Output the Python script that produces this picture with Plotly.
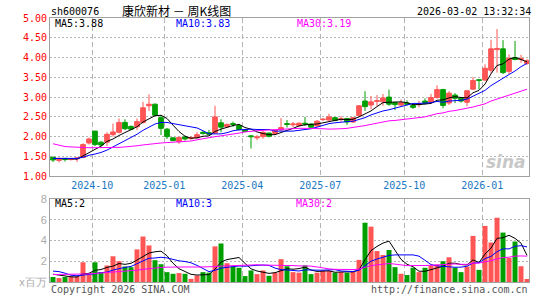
import plotly.graph_objects as go
import pandas as pd

# ---- categories (weekly K-line, dated by week end; Spring-Festival week has no trading) ----
weeks = [d.strftime("%Y-%m-%d") for d in pd.date_range("2024-08-23", "2026-02-27", freq="W-FRI")
         if d.strftime("%Y-%m-%d") != "2026-02-20"] + ["2026-03-02"]
tick_weeks = ["2024-10-11", "2025-01-03", "2025-04-04", "2025-07-04", "2025-10-10", "2026-01-09"]
tick_labels = ["2024-10", "2025-01", "2025-04", "2025-07", "2025-10", "2026-01"]

# ---- prices ----
opens = [1.48, 1.40, 1.45, 1.42, 1.44, 1.47, 1.84, 2.14, 1.86, 1.86,
         2.05, 2.11, 2.36, 2.26, 2.25, 2.36, 2.78, 2.82, 2.48, 2.19,
         1.97, 1.87, 1.99, 1.95, 1.97, 2.11, 2.10, 2.09, 2.35, 2.25,
         2.33, 2.28, 2.17, 2.02, 1.97, 2.00, 2.09, 2.08, 2.17, 2.33,
         2.30, 2.28, 2.34, 2.32, 2.27, 2.43, 2.42, 2.48, 2.43, 2.46,
         2.37, 2.53, 2.90, 2.80, 2.89, 2.88, 3.00, 2.86, 2.80, 2.85,
         2.79, 2.81, 2.90, 2.87, 2.99, 3.19, 2.85, 3.05, 2.97, 2.87,
         3.20, 3.44, 3.43, 3.68, 4.20, 4.22, 3.65, 4.00, 3.95, 3.85]
highs = [1.49, 1.47, 1.46, 1.46, 1.47, 1.83, 1.98, 2.14, 1.89, 2.11,
         2.33, 2.46, 2.44, 2.28, 2.46, 2.88, 3.07, 2.84, 2.55, 2.22,
         1.99, 2.00, 2.03, 2.00, 2.11, 2.14, 2.17, 2.78, 2.44, 2.33,
         2.38, 2.30, 2.19, 2.04, 2.04, 2.15, 2.11, 2.18, 2.47, 2.42,
         2.37, 2.36, 2.50, 2.33, 2.42, 2.47, 2.58, 2.50, 2.52, 2.47,
         2.50, 2.80, 3.15, 3.03, 3.05, 3.08, 3.19, 2.88, 2.94, 2.92,
         2.84, 2.91, 2.97, 3.08, 3.30, 3.21, 3.15, 3.10, 3.00, 3.18,
         3.51, 3.45, 3.83, 4.45, 4.72, 4.44, 4.08, 4.42, 4.07, 3.96]
lows = [1.36, 1.35, 1.37, 1.40, 1.36, 1.46, 1.80, 1.76, 1.75, 1.76,
        2.00, 2.08, 2.17, 2.16, 2.17, 2.33, 2.65, 2.53, 2.04, 1.94,
        1.88, 1.82, 1.90, 1.92, 1.95, 2.05, 2.03, 2.07, 2.11, 2.22,
        2.25, 2.16, 2.11, 1.70, 1.91, 1.95, 1.98, 2.05, 2.15, 2.23,
        2.24, 2.26, 2.27, 2.22, 2.25, 2.40, 2.40, 2.39, 2.38, 2.30,
        2.35, 2.52, 2.65, 2.69, 2.78, 2.78, 2.78, 2.67, 2.77, 2.79,
        2.70, 2.74, 2.81, 2.85, 2.96, 2.72, 2.80, 2.85, 2.86, 2.77,
        3.18, 3.19, 3.40, 3.60, 3.62, 3.58, 3.58, 3.93, 3.87, 3.82]
closes = [1.41, 1.45, 1.42, 1.43, 1.46, 1.80, 1.94, 1.80, 1.79, 2.06,
          2.12, 2.36, 2.20, 2.19, 2.38, 2.73, 2.82, 2.54, 2.21, 2.00,
          1.90, 1.98, 1.94, 1.98, 2.05, 2.08, 2.06, 2.50, 2.24, 2.31,
          2.31, 2.18, 2.13, 2.00, 1.99, 2.11, 2.01, 2.16, 2.23, 2.31,
          2.32, 2.34, 2.32, 2.24, 2.39, 2.44, 2.50, 2.41, 2.45, 2.37,
          2.48, 2.78, 2.76, 2.88, 2.91, 2.98, 2.82, 2.81, 2.86, 2.82,
          2.74, 2.83, 2.84, 2.99, 3.19, 2.79, 3.10, 2.97, 2.90, 3.16,
          3.42, 3.42, 3.73, 4.22, 4.23, 3.62, 3.98, 3.95, 3.97, 3.92]
ma5 = [1.45, 1.45, 1.44, 1.44, 1.43, 1.51, 1.61, 1.69, 1.76, 1.88,
       1.94, 2.03, 2.11, 2.19, 2.25, 2.37, 2.46, 2.53, 2.54, 2.46,
       2.29, 2.13, 2.01, 1.96, 1.97, 2.01, 2.02, 2.13, 2.19, 2.24,
       2.28, 2.31, 2.23, 2.19, 2.12, 2.08, 2.05, 2.05, 2.10, 2.16,
       2.21, 2.27, 2.30, 2.31, 2.32, 2.35, 2.38, 2.40, 2.44, 2.43,
       2.44, 2.50, 2.57, 2.65, 2.76, 2.86, 2.87, 2.88, 2.88, 2.86,
       2.81, 2.81, 2.82, 2.84, 2.92, 2.93, 2.98, 3.01, 2.99, 2.98,
       3.11, 3.17, 3.33, 3.59, 3.80, 3.84, 3.96, 4.00, 3.95, 3.89]
ma10 = [1.45, 1.45, 1.45, 1.45, 1.45, 1.48, 1.53, 1.56, 1.60, 1.66,
        1.73, 1.82, 1.90, 1.97, 2.06, 2.16, 2.25, 2.32, 2.36, 2.36,
        2.33, 2.30, 2.27, 2.25, 2.22, 2.15, 2.07, 2.07, 2.07, 2.10,
        2.15, 2.17, 2.18, 2.19, 2.18, 2.18, 2.18, 2.14, 2.14, 2.14,
        2.14, 2.16, 2.18, 2.20, 2.24, 2.28, 2.33, 2.35, 2.37, 2.38,
        2.39, 2.44, 2.48, 2.55, 2.60, 2.65, 2.68, 2.72, 2.77, 2.81,
        2.84, 2.84, 2.85, 2.86, 2.89, 2.87, 2.90, 2.91, 2.92, 2.95,
        3.02, 3.08, 3.17, 3.29, 3.39, 3.48, 3.57, 3.66, 3.77, 3.85]
ma30 = [1.82, 1.78, 1.75, 1.74, 1.73, 1.72, 1.72, 1.72, 1.72, 1.72,
        1.73, 1.73, 1.74, 1.75, 1.77, 1.79, 1.81, 1.83, 1.84, 1.85,
        1.86, 1.87, 1.88, 1.89, 1.92, 1.95, 1.98, 2.00, 2.02, 2.04,
        2.07, 2.09, 2.12, 2.14, 2.15, 2.16, 2.17, 2.18, 2.19, 2.20,
        2.21, 2.21, 2.21, 2.21, 2.21, 2.20, 2.19, 2.19, 2.20, 2.21,
        2.23, 2.25, 2.28, 2.31, 2.34, 2.37, 2.40, 2.41, 2.43, 2.44,
        2.46, 2.48, 2.50, 2.54, 2.58, 2.60, 2.64, 2.66, 2.69, 2.71,
        2.75, 2.79, 2.83, 2.90, 2.96, 3.00, 3.05, 3.10, 3.15, 3.20]

# ---- volume (x 1,000,000) ----
volume = [0.48, 0.38, 0.48, 0.54, 0.54, 1.90, 0.73, 1.90, 0.95, 1.59,
          2.48, 2.00, 1.49, 1.43, 3.14, 4.38, 3.52, 2.10, 1.71, 0.95,
          0.79, 0.86, 0.79, 0.30, 0.63, 0.95, 0.90, 3.43, 3.71, 1.81,
          1.49, 1.37, 0.57, 1.11, 0.76, 1.11, 0.60, 0.90, 2.20, 1.52,
          0.95, 0.90, 1.60, 0.76, 0.90, 1.08, 1.08, 0.90, 0.95, 0.90,
          1.02, 2.13, 5.71, 5.33, 2.98, 2.60, 3.08, 1.43, 0.79, 0.67,
          1.37, 0.95, 1.37, 1.60, 1.68, 2.00, 2.38, 1.37, 0.95, 1.49,
          4.44, 1.17, 5.40, 3.81, 6.19, 4.76, 2.32, 3.90, 1.52, 0.29]
vma5 = [0.75, 0.65, 0.55, 0.50, 0.48, 0.77, 0.84, 1.12, 1.20, 1.41,
        1.53, 1.78, 1.70, 1.80, 2.11, 2.49, 2.79, 2.91, 2.97, 2.53,
        1.81, 1.28, 1.02, 0.74, 0.67, 0.71, 0.71, 1.24, 1.92, 2.16,
        2.27, 2.36, 1.79, 1.27, 1.06, 0.98, 0.83, 0.90, 1.11, 1.27,
        1.23, 1.29, 1.43, 1.15, 1.02, 1.05, 1.08, 0.94, 0.98, 0.98,
        0.97, 1.18, 2.14, 3.02, 3.43, 3.75, 3.94, 3.08, 2.18, 1.71,
        1.47, 1.04, 1.03, 1.19, 1.39, 1.52, 1.81, 1.81, 1.68, 1.64,
        2.13, 1.88, 2.69, 3.26, 4.20, 4.27, 4.50, 4.20, 3.74, 2.56]
vma10 = [1.05, 1.00, 0.85, 0.65, 0.60, 0.65, 0.68, 0.80, 0.90, 0.95,
         1.15, 1.31, 1.41, 1.50, 1.76, 2.01, 2.29, 2.31, 2.38, 2.32,
         2.15, 2.04, 1.97, 1.85, 1.60, 1.26, 1.00, 1.13, 1.33, 1.42,
         1.49, 1.54, 1.52, 1.60, 1.61, 1.63, 1.60, 1.34, 1.19, 1.16,
         1.11, 1.06, 1.17, 1.13, 1.14, 1.14, 1.19, 1.19, 1.06, 1.00,
         1.01, 1.13, 1.54, 2.00, 2.21, 2.36, 2.56, 2.61, 2.60, 2.57,
         2.61, 2.49, 2.06, 1.68, 1.55, 1.49, 1.42, 1.42, 1.43, 1.52,
         1.82, 1.85, 2.25, 2.47, 2.92, 3.20, 3.19, 3.44, 3.50, 3.38]
vma30 = [0.72, 0.72, 0.72, 0.73, 0.74, 0.76, 0.78, 0.82, 0.86, 0.90,
         0.95, 1.00, 1.04, 1.08, 1.14, 1.22, 1.30, 1.36, 1.40, 1.43,
         1.45, 1.46, 1.46, 1.45, 1.44, 1.43, 1.42, 1.48, 1.53, 1.56,
         1.60, 1.63, 1.63, 1.65, 1.66, 1.63, 1.63, 1.59, 1.64, 1.63,
         1.58, 1.55, 1.55, 1.53, 1.45, 1.34, 1.26, 1.22, 1.20, 1.19,
         1.20, 1.24, 1.41, 1.58, 1.65, 1.71, 1.78, 1.72, 1.62, 1.58,
         1.58, 1.56, 1.59, 1.61, 1.64, 1.67, 1.72, 1.74, 1.70, 1.70,
         1.81, 1.82, 1.95, 2.05, 2.23, 2.35, 2.39, 2.49, 2.51, 2.49]

price_ticks = [1.0, 1.5, 2.0, 2.5, 3.0, 3.5, 4.0, 4.5, 5.0]
vol_ticks = [0, 2, 4, 6, 8]
vol_tick_text = ["x百万", "2", "4", "6", "8"]

# ---- style ----
UP, DOWN = "#ff5555", "#009f00"
MA_COLORS = ["#000000", "#0000ff", "#ff00ff"]
MONO = "DejaVu Sans Mono"
GRID = "#b4b4b4"
BORDER = "#a0a0a0"
W, H = 545, 300
L, R, T, B = 50, 16, 18, 15
PW, PH = W - L - R, H - T - B


def px(x):
    return (x - L) / PW


def py(y):
    return (H - B - y) / PH


x = list(range(len(weeks)))
tickpos = [weeks.index(w) - 0.45 for w in tick_weeks]

fig = go.Figure()
fig.add_trace(go.Candlestick(
    x=x, open=opens, high=highs, low=lows, close=closes,
    increasing=dict(line=dict(color=UP, width=1), fillcolor=UP),
    decreasing=dict(line=dict(color=DOWN, width=1), fillcolor=DOWN),
    whiskerwidth=0, xaxis="x", yaxis="y", showlegend=False, hoverinfo="skip"))
for ma, col in zip([ma5, ma10, ma30], MA_COLORS):
    fig.add_trace(go.Scatter(x=x, y=ma, mode="lines", line=dict(color=col, width=1),
                             xaxis="x", yaxis="y", showlegend=False, hoverinfo="skip"))

bar_colors = [UP if c >= o else DOWN for o, c in zip(opens, closes)]
fig.add_trace(go.Bar(x=x, y=volume, marker=dict(color=bar_colors, line=dict(width=0)),
                     width=0.83, xaxis="x2", yaxis="y2", showlegend=False, hoverinfo="skip"))
for ma, col in zip([vma5, vma10, vma30], MA_COLORS):
    fig.add_trace(go.Scatter(x=x, y=ma, mode="lines", line=dict(color=col, width=1),
                             xaxis="x2", yaxis="y2", showlegend=False, hoverinfo="skip"))

xr = [-0.5, len(weeks) - 0.67]
common_x = dict(range=xr, tickvals=tickpos, ticktext=tick_labels, showgrid=True,
                gridcolor=GRID, griddash="5px,3px", gridwidth=1, showline=True, mirror=True,
                linecolor=BORDER, linewidth=1, ticks="", zeroline=False, fixedrange=True)

fig.update_layout(
    width=W, height=H, margin=dict(l=L, r=R, t=T, b=B),
    paper_bgcolor="white", plot_bgcolor="white", showlegend=False, hovermode=False,
    bargap=0.15, boxgap=0.22, boxgroupgap=0,
    xaxis=dict(domain=[0, 1], anchor="y", rangeslider=dict(visible=False),
               showticklabels=True, tickfont=dict(family=MONO, size=10, color="#1a78c2"),
               **common_x),
    yaxis=dict(domain=[107 / PH, 1], anchor="x", range=[1, 5], tickvals=price_ticks,
               tickformat=".2f", tickfont=dict(family=MONO, size=10, color="#ff0000"),
               showgrid=True, gridcolor=GRID, griddash="2px,2px", gridwidth=1,
               showline=True, mirror=True, linecolor=BORDER, linewidth=1,
               ticks="", zeroline=False, fixedrange=True),
    xaxis2=dict(domain=[0, 1], anchor="y2", showticklabels=False, **common_x),
    yaxis2=dict(domain=[0, 84 / PH], anchor="x2", range=[0, 8], tickvals=vol_ticks,
                ticktext=vol_tick_text, tickfont=dict(family="Liberation Sans", size=11, color="#aaaaaa"),
                showgrid=True, gridcolor=GRID, griddash="2px,2px", gridwidth=1,
                showline=True, mirror=True, linecolor=BORDER, linewidth=1,
                ticks="", zeroline=False, fixedrange=True),
)


def note(text, x0, y0, color="#000000", size=10, family=MONO, xanchor="left", **kw):
    fig.add_annotation(text=text, x=px(x0), y=py(y0), xref="paper", yref="paper",
                       showarrow=False, xanchor=xanchor, yanchor="middle",
                       font=dict(family=family, size=size, color=color, **kw))


note("sh600076", 49, 11)
note("康欣新材 － 周K线图", 120, 10, size=12, family="Noto Sans CJK SC")
note("2026-03-02 13:32:34", 533, 11, xanchor="right")
note("MA5:3.88", 53, 24)
note("MA10:3.83", 174, 24, color="#0000ff")
note("MA30:3.19", 295, 24, color="#ff00ff")
note("MA5:2", 53, 206)
note("MA10:3", 174, 206, color="#0000ff")
note("MA30:2", 294, 206, color="#ff00ff")
note("Copyright 2026 SINA.COM", 49, 293, color="#555555")
note("http://finance.sina.com.cn", 530, 293, color="#555555", xanchor="right")
note("sina", 528, 164, color="#c8c8c8", size=17, family="DejaVu Sans", xanchor="right",
     style="italic", weight="bold")

fig.write_html("out.html")
